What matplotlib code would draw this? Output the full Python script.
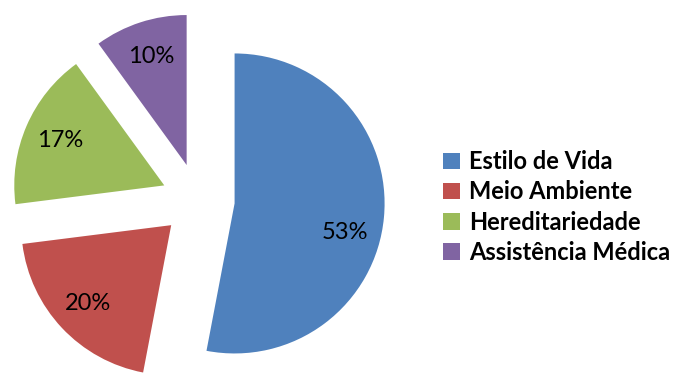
import matplotlib.pyplot as plt
from matplotlib.patches import Patch

# dados do gráfico
categorias = ['Estilo de Vida', 'Meio Ambiente', 'Hereditariedade', 'Assistência Médica']
valores = [53, 20, 17, 10]
cores = ['#4F81BD', '#C0504D', '#9BBB59', '#8064A2']

plt.rcParams['font.family'] = ['Lato', 'DejaVu Sans']

fig = plt.figure(figsize=(6.76, 3.74), dpi=100)

# eixo posicionado em pixels: centro (198, 174), 1 unidade = 150 px
W, H = 676, 374
lim = 1.4
tam = 2 * lim * 150
cx, cy = 198, 174
ax = fig.add_axes([(cx - tam / 2) / W, (cy - tam / 2) / H, tam / W, tam / H])

wedges, textos, pcts = ax.pie(
    valores, colors=cores, startangle=90, counterclock=False,
    explode=[0.245] * len(valores), autopct=lambda p: f'{p:.0f}%',
    pctdistance=0.76, wedgeprops=dict(linewidth=0),
    textprops=dict(fontsize=17, color='black'))

# rótulo da fatia grande um pouco mais abaixo, como no original
x0, y0 = pcts[0].get_position()
pcts[0].set_position((x0 - 0.02, y0 - 0.12))

ax.set_xlim(-lim, lim)
ax.set_ylim(-lim, lim)
ax.set_aspect('equal')
ax.axis('off')

# legenda à direita
handles = [Patch(facecolor=c, edgecolor='none') for c in cores]
fig.legend(handles, categorias, loc='center left', bbox_to_anchor=(443 / W, 1 - 207 / H),
           frameon=False, prop=dict(size=17, weight='bold'),
           handlelength=0.7, handleheight=0.7, handletextpad=0.4, labelspacing=0.3,
           borderpad=0, borderaxespad=0)

fig.savefig('out.png', dpi=100)
